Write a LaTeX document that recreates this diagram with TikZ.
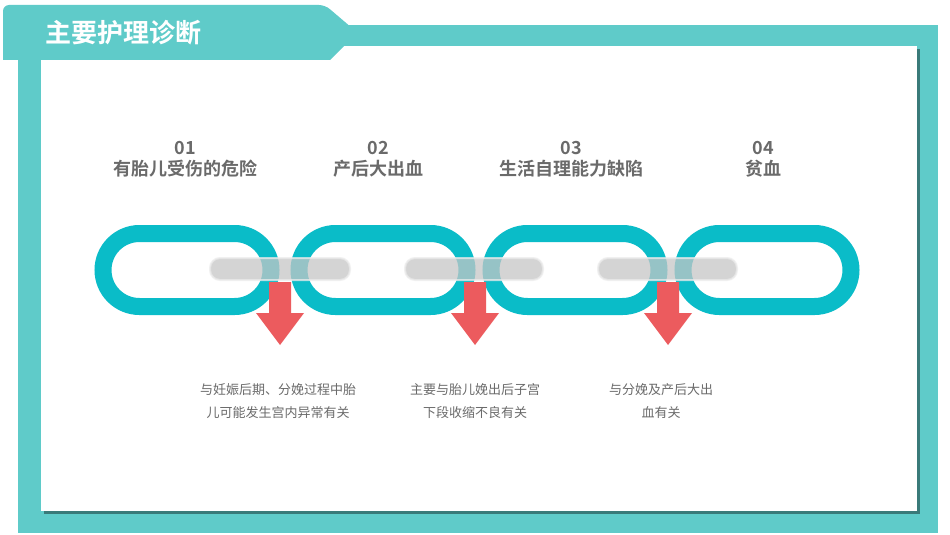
\documentclass[tikz,border=0pt]{standalone}
\usepackage{fontspec}
\setmainfont{Noto Sans CJK SC}
\newfontfamily\cjkb{Noto Sans CJK SC Bold}
\begin{document}
\begin{tikzpicture}[x=1pt,y=-1pt,
  link/.style={draw=teal0,line width=17pt,rounded corners=36.5pt},
  bar/.style={fill=gray!45,draw=gray!15,line width=2pt,rounded corners=10pt,opacity=0.75},
  head/.style={text=txt,font=\cjkb\fontsize{18}{21}\selectfont,align=center},
  desc/.style={text=txt,font=\fontsize{13}{23}\selectfont,align=center}]
\definecolor{teal0}{HTML}{0ABCC8}
\definecolor{frame}{HTML}{5FCBC9}
\definecolor{txt}{HTML}{6A6A6A}
\definecolor{redA}{HTML}{EC5B5E}
\useasboundingbox (0,0) rectangle (950,535);
\fill[white] (0,0) rectangle (950,535);
\fill[frame] (18,25) rectangle (938,533);
\fill[frame!60!black] (44,49) rectangle (920,514);
\fill[white] (41,46) rectangle (917,511);
\fill[frame,rounded corners=6pt] (3,60) -- (3,5) -- (325,5) [sharp corners]-- (352,28) -- (352,38) -- (330,60) -- cycle;
\node[text=white,font=\cjkb\fontsize{26}{30}\selectfont,anchor=west] (title) at (42,33) {主要护理诊断};
\foreach \c/\n in {187/a,383/b,575/c,767/d}
  \draw[link] (\c-84,233.5) rectangle (\c+84,306.5);
\foreach \l/\r in {210/350,405/543,598/737}
  \draw[bar] (\l,258) rectangle (\r,280);
\foreach \c in {280,475,668}
  \fill[redA] (\c-11,282) -- (\c+11,282) -- (\c+11,313) -- (\c+24,313) -- (\c,345) -- (\c-24,313) -- (\c-11,313) -- cycle;
\node[head] (h1) at (185,159) {01\\有胎儿受伤的危险};
\node[head] (h2) at (378,159) {02\\产后大出血};
\node[head] (h3) at (571,159) {03\\生活自理能力缺陷};
\node[head] (h4) at (763,159) {04\\贫血};
\node[desc] (d1) at (278,401) {与妊娠后期、分娩过程中胎\\儿可能发生宫内异常有关};
\node[desc] (d2) at (475,401) {主要与胎儿娩出后子宫\\下段收缩不良有关};
\node[desc] (d3) at (661,401) {与分娩及产后大出\\血有关};
\end{tikzpicture}
\end{document}
